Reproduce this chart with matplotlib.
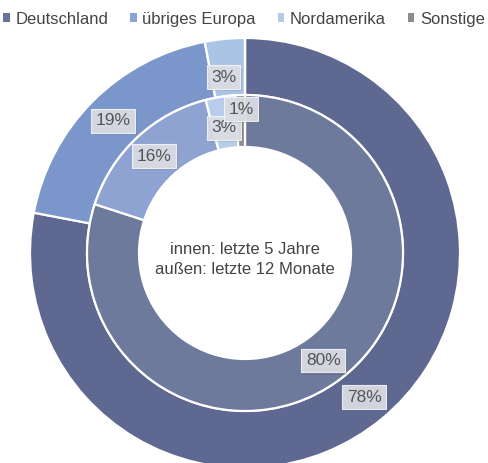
import numpy as np
import matplotlib
matplotlib.use('Agg')
import matplotlib.pyplot as plt
import matplotlib.patheffects as pe
from matplotlib.patches import Patch

plt.rcParams['font.family'] = ['Liberation Sans', 'DejaVu Sans']

# ── data ─────────────────────────────────────────────────────────────────────
regions   = ['Deutschland', 'übriges Europa', 'Nordamerika', 'Sonstige']
outer_pct = [78, 19, 3, 0]    # letzte 12 Monate
inner_pct = [80, 16, 3, 1]    # letzte 5 Jahre

outer_cols  = ['#5e6890', '#7b96cb', '#aac4e6', '#8a8a8a']
inner_cols  = ['#6e7a9c', '#8fa3d3', '#b7cde9', '#8e8e8e']
legend_cols = ['#68739a', '#8aa2d6', '#b4cbe8', '#8c8c8c']

# geometry in pixels
W, H = 488, 463
cx, cy = 245, 463 - 253
R_out, R_mid, R_in = 215, 158, 106

fig = plt.figure(figsize=(W / 100, H / 100), dpi=100)
ax = fig.add_axes([0, 0, 1, 1])

wedge_kw = dict(edgecolor='white', linewidth=1.6)
ax.pie(outer_pct, colors=outer_cols, radius=R_out, center=(cx, cy),
       startangle=90, counterclock=False, frame=True,
       wedgeprops=dict(width=R_out - R_mid, **wedge_kw))
ax.pie(inner_pct, colors=inner_cols, radius=R_mid, center=(cx, cy),
       startangle=90, counterclock=False, frame=True,
       wedgeprops=dict(width=R_mid - R_in, **wedge_kw))
ax.set_xlim(0, W)
ax.set_ylim(0, H)
ax.set_aspect('equal')
ax.axis('off')

box = dict(boxstyle='square,pad=0.25', fc='#dcdee5', ec='#f2f3f6', lw=0.8, alpha=0.93)


def put_labels(pcts, r_lab, tweaks):
    start = 90.0
    for i, p in enumerate(pcts):
        ang = start - p * 3.6 / 2
        start -= p * 3.6
        if p <= 0:
            continue
        dang, dr = tweaks.get(i, (0, 0))
        a = np.radians(ang + dang)
        x = cx + (r_lab + dr) * np.cos(a)
        y = cy + (r_lab + dr) * np.sin(a)
        t = ax.text(x, y, f'{p}%', fontsize=12.5, color='#555555',
                    ha='center', va='center', bbox=box, zorder=5)
        t.get_bbox_patch().set_path_effects(
            [pe.SimplePatchShadow(offset=(1.5, -1.5), alpha=0.15), pe.Normal()])


put_labels(outer_pct, 187, {2: (1.6, -10)})
put_labels(inner_pct, 133, {2: (0.5, -6), 3: (-0.2, 11)})

ax.text(cx, cy + 3, 'innen: letzte 5 Jahre', ha='center', va='center',
        fontsize=12, color='#444444')
ax.text(cx, cy - 16, 'außen: letzte 12 Monate', ha='center', va='center',
        fontsize=12, color='#444444')

handles = [Patch(facecolor=c, edgecolor='none') for c in legend_cols]
fig.legend(handles, regions, loc='upper center', bbox_to_anchor=(0.5, 1.0),
           ncol=4, frameon=False, fontsize=12, handlelength=0.4,
           handleheight=0.4, handletextpad=0.35, columnspacing=1.3,
           labelcolor='#444444', borderaxespad=0.3)

fig.savefig('out.png', dpi=100)
